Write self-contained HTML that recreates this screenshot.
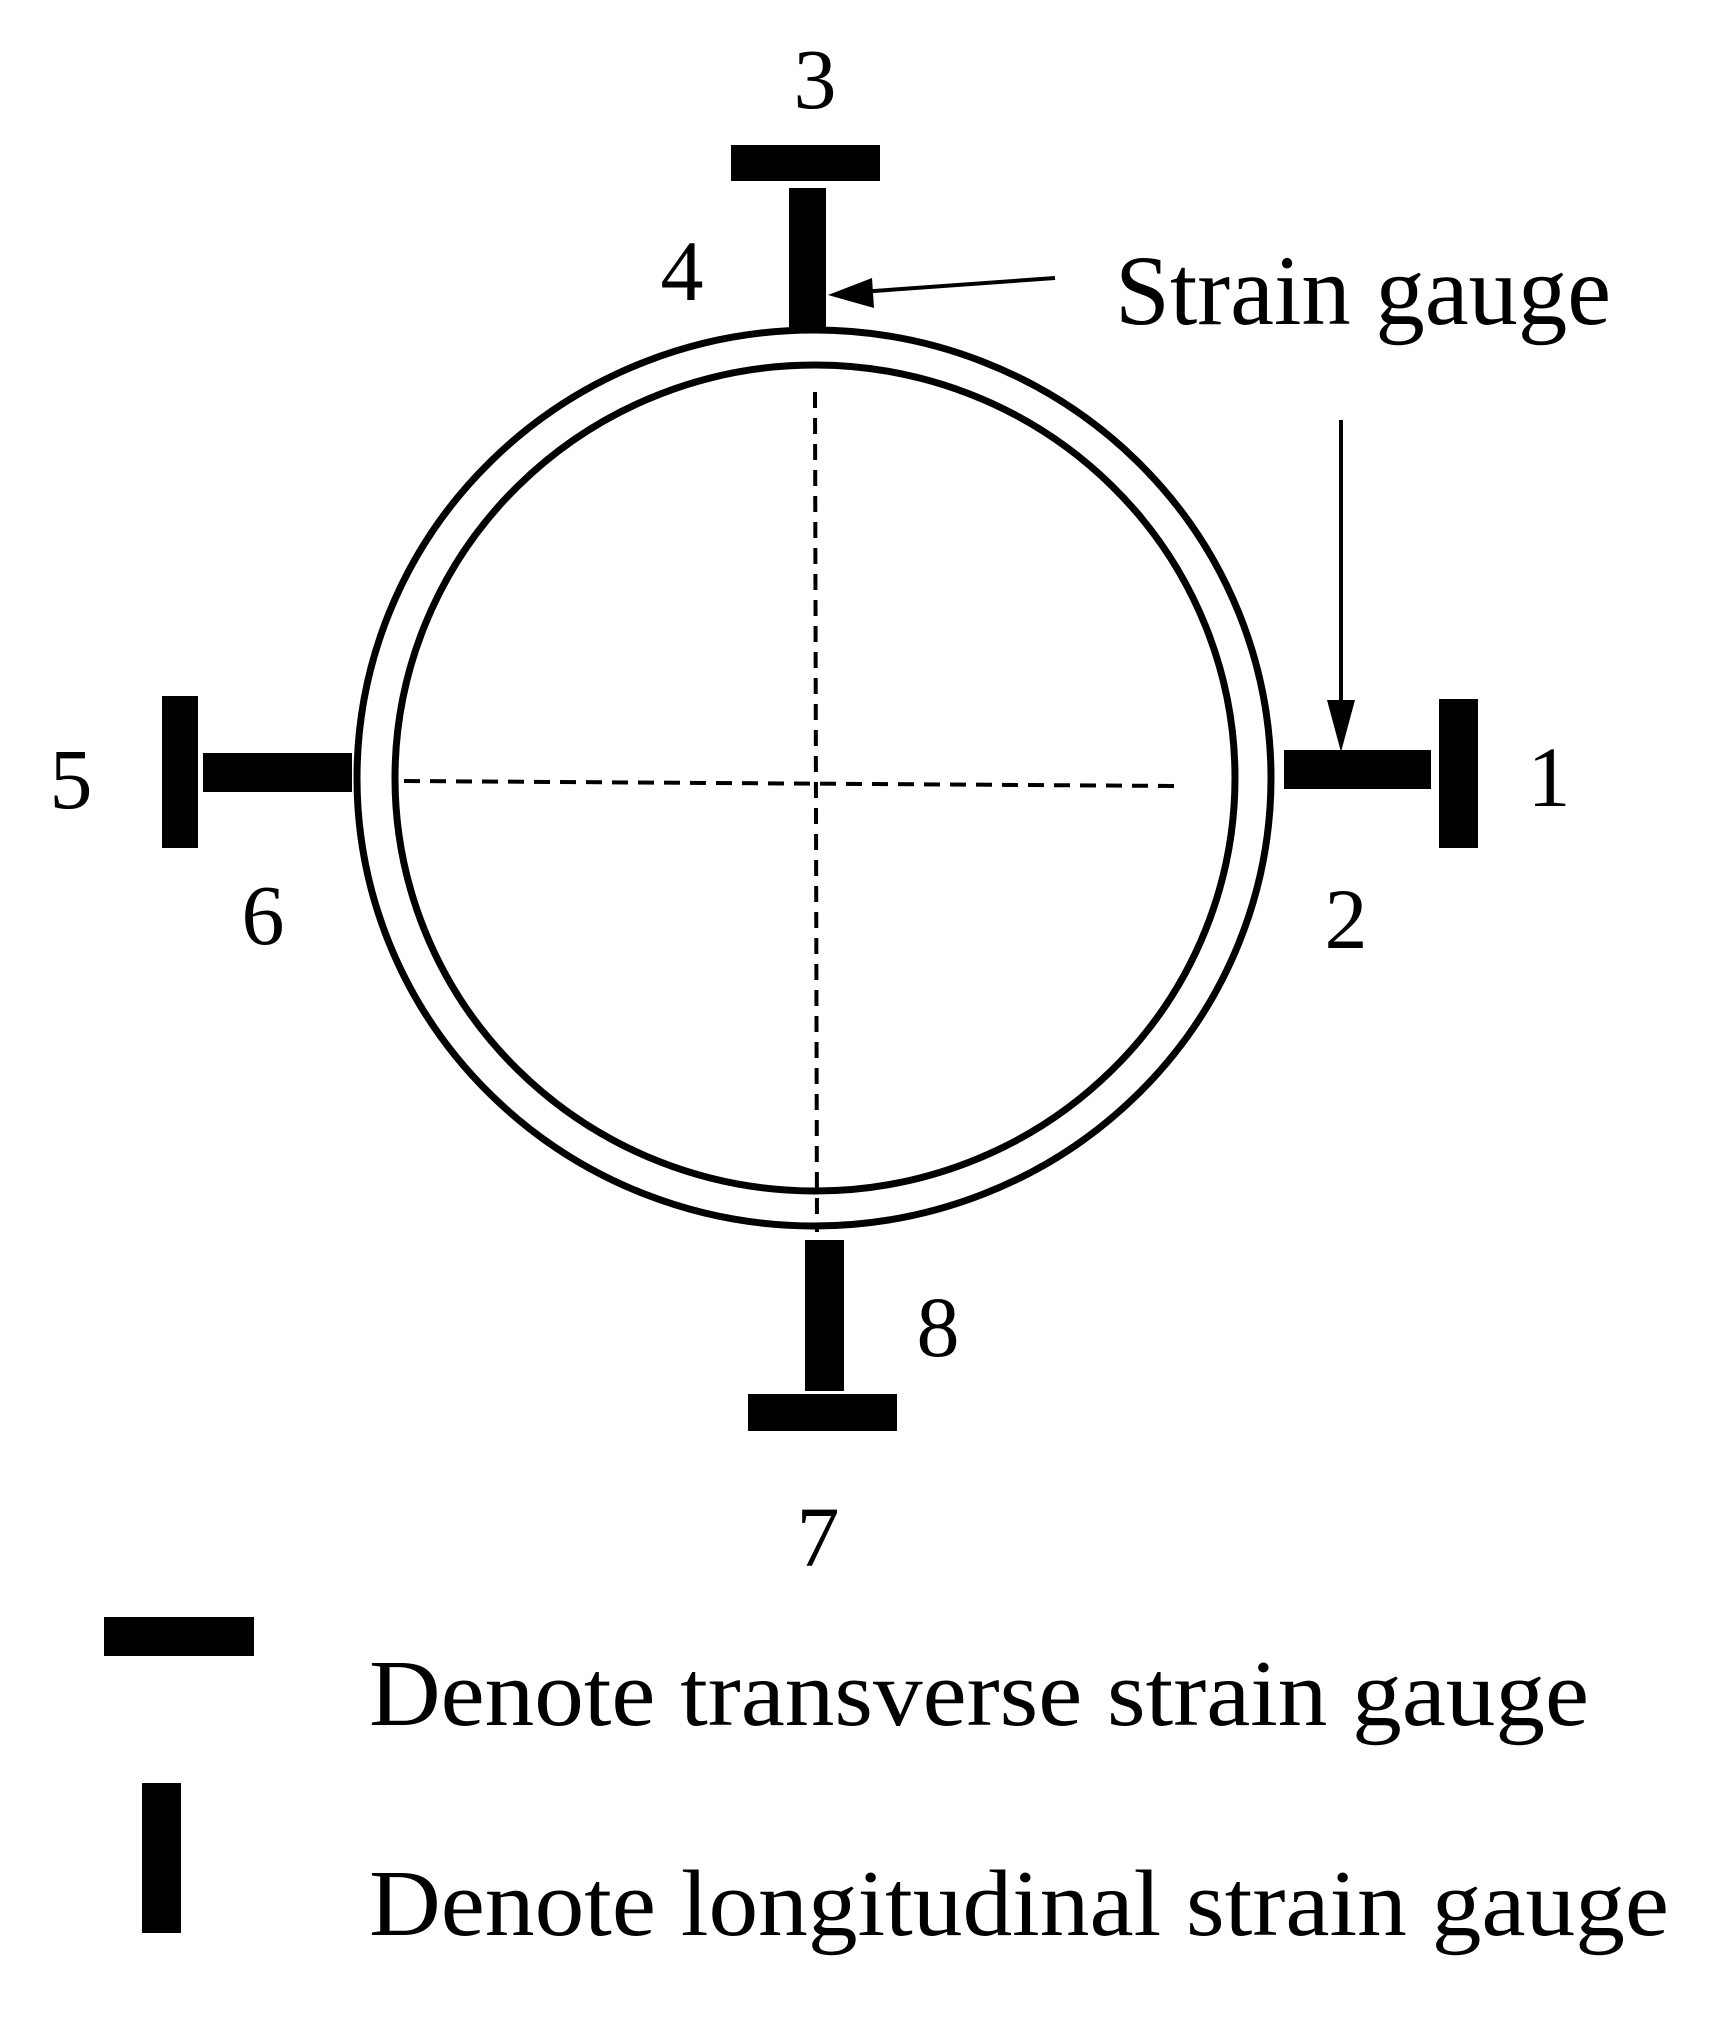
<!DOCTYPE html>
<html><head><meta charset="utf-8"><style>html,body{margin:0;padding:0;background:#fff}svg{display:block}</style></head>
<body>
<svg width="1721" height="2037" viewBox="0 0 1721 2037" xmlns="http://www.w3.org/2000/svg">
<rect width="1721" height="2037" fill="#fff"/>
<g fill="none" stroke="#000" stroke-width="7">
<ellipse cx="814" cy="778" rx="457" ry="448"/>
<ellipse cx="815" cy="778" rx="420" ry="413"/>
</g>
<g stroke="#000" stroke-width="4" stroke-dasharray="16,10">
<line x1="815" y1="392" x2="817" y2="1232"/>
<line x1="404" y1="781" x2="1180" y2="786"/>
</g>
<g fill="#000">
<rect x="731" y="145" width="149" height="36"/>
<rect x="789" y="188" width="37" height="142"/>
<rect x="1284" y="750" width="147" height="39"/>
<rect x="1439" y="699" width="39" height="149"/>
<rect x="162" y="696" width="36" height="152"/>
<rect x="203" y="753" width="149" height="39"/>
<rect x="805" y="1240" width="39" height="151"/>
<rect x="748" y="1394" width="149" height="37"/>
<rect x="104" y="1617" width="150" height="39"/>
<rect x="142" y="1783" width="39" height="150"/>
</g>
<g stroke="#000" stroke-width="4">
<line x1="1055" y1="278" x2="860" y2="292"/>
<line x1="1341" y1="420" x2="1341" y2="710"/>
</g>
<polygon points="828,295 872,278 874,308" fill="#000"/>
<polygon points="1341,752 1327,700 1355,700" fill="#000"/>
<g font-family="Liberation Serif, serif" font-size="86" fill="#000" text-anchor="middle">
<text x="815" y="108">3</text>
<text x="682" y="300">4</text>
<text x="1549" y="806">1</text>
<text x="1346" y="948">2</text>
<text x="71" y="808">5</text>
<text x="263" y="944">6</text>
<text x="938" y="1356">8</text>
<text x="818" y="1566">7</text>
</g>
<g font-family="Liberation Serif, serif" fill="#000">
<text x="1115" y="324" font-size="100" textLength="496" lengthAdjust="spacingAndGlyphs">Strain gauge</text>
<text x="369" y="1725" font-size="94" textLength="1220" lengthAdjust="spacingAndGlyphs">Denote transverse strain gauge</text>
<text x="369" y="1935" font-size="94" textLength="1300" lengthAdjust="spacingAndGlyphs">Denote longitudinal strain gauge</text>
</g>
</svg>
</body></html>
